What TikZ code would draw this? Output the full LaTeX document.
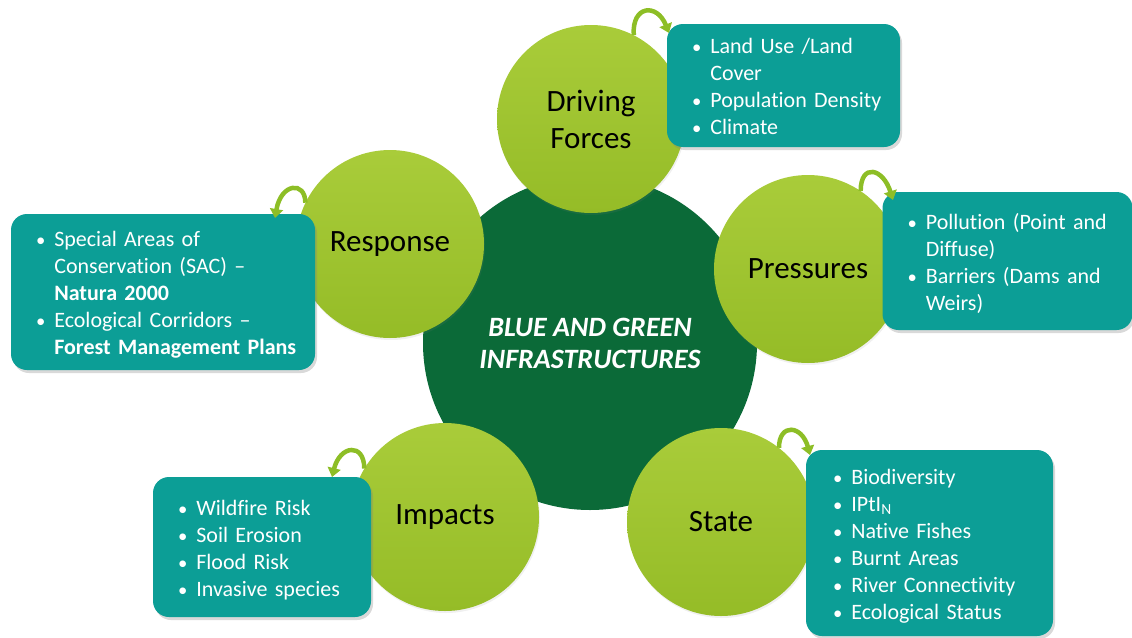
\documentclass[tikz,border=0pt]{standalone}
\usepackage{fontspec}
\setmainfont{Carlito}[Ligatures=NoCommon]
\usetikzlibrary{arrows.meta,shadows,calc}
\definecolor{lgreen}{HTML}{9DC32C}
\definecolor{lgreentop}{HTML}{A9CC3A}
\definecolor{lgreenbot}{HTML}{95BC27}
\definecolor{dgreen}{HTML}{0B6A38}
\definecolor{tealbox}{HTML}{0C9E96}
\definecolor{agreen}{HTML}{8DBE26}
\newcommand{\blt}{\scalebox{0.85}{•}}
\newcommand{\boxtext}[1]{\raisebox{-3.5pt}[\height][\depth]{\begin{tabular}{@{}l@{\hspace{9pt}}l@{}}#1\end{tabular}}}
\begin{document}
\begin{tikzpicture}[x=1pt,y=-1pt,
  hub/.style={circle, minimum size=334, inner sep=0, fill=dgreen, text=white,
    font=\fontsize{28}{32}\selectfont\bfseries\itshape, align=center},
  ring/.style={circle, minimum size=188, inner sep=0, top color=lgreentop, bottom color=lgreenbot,
    drop shadow={opacity=0.12, shadow xshift=1pt, shadow yshift=-2pt},
    font=\fontsize{31}{37}\selectfont, text=black, align=center},
  infobox/.style={rounded corners=16, fill=tealbox, text=white, inner xsep=25, inner ysep=0,
    drop shadow={opacity=0.3, shadow xshift=2pt, shadow yshift=-3pt},
    font=\fontsize{22}{27}\selectfont, align=left},
  loop/.style={line width=4.5, draw=agreen, -{Triangle[width=13,length=9]}}
]
\useasboundingbox (0,0) rectangle (1132,637);

\node[hub] (hub) at (590,343) {BLUE AND GREEN\\INFRASTRUCTURES};

\node[ring] (df) at (591,119) {Driving\\Forces};
\node[ring] (pr) at (808,269) {Pressures};
\node[ring] (st) at (721,522) {State};
\node[ring] (im) at (445,517) {Impacts};
\node[ring] (re) at (390,244) {Response};

\node[infobox, minimum width=233, minimum height=123, text width=183] (dfbox) at (783.5,85.5)
 {\boxtext{
  \blt & Land Use /Land\\
    & Cover\\
  \blt & Population Density\\
  \blt & Climate}};

\node[infobox, minimum width=250, minimum height=138, text width=200] (prbox) at (1007.5,261)
 {\boxtext{
  \blt & Pollution (Point and\\
    & Diffuse)\\
  \blt & Barriers (Dams and\\
    & Weirs)}};

\node[infobox, minimum width=247, minimum height=186, text width=193, inner xsep=27] (stbox) at (929.5,543)
 {\boxtext{
  \blt & Biodiversity\\
  \blt & IPtI\textsubscript{N}\\
  \blt & Native Fishes\\
  \blt & Burnt Areas\\
  \blt & River Connectivity\\
  \blt & Ecological Status}};

\node[infobox, minimum width=218, minimum height=140, text width=168] (imbox) at (262,547)
 {\boxtext{
  \blt & Wildfire Risk\\
  \blt & Soil Erosion\\
  \blt & Flood Risk\\
  \blt & Invasive species}};

\node[infobox, minimum width=304, minimum height=156, text width=254] (rebox) at (163,292)
 {\boxtext{
  \blt & Special Areas of\\
    & Conservation (SAC) --\\
    & \textbf{Natura 2000}\\
  \blt & Ecological Corridors --\\
    & \textbf{Forest Management Plans}}};

\coordinate (dfend) at (669,33);
\coordinate (prend) at (893,200);
\coordinate (stend) at (810,455);
\coordinate (imend) at (332,477);
\coordinate (reend) at (275,218);

\draw[loop] (df.63) .. controls +(-2,-30) and +(-12,-30) .. (dfend);
\draw[loop] (pr.56) .. controls +(0,-28) and +(-10,-32) .. (prend);
\draw[loop] (st.52) .. controls +(0,-25) and +(-8,-30) .. (stend);
\draw[loop] (im.149) .. controls +(0,-26) and +(8,-32) .. (imend);
\draw[loop] (re.154) .. controls +(0,-22) and +(6,-35) .. (reend);
\end{tikzpicture}
\end{document}
